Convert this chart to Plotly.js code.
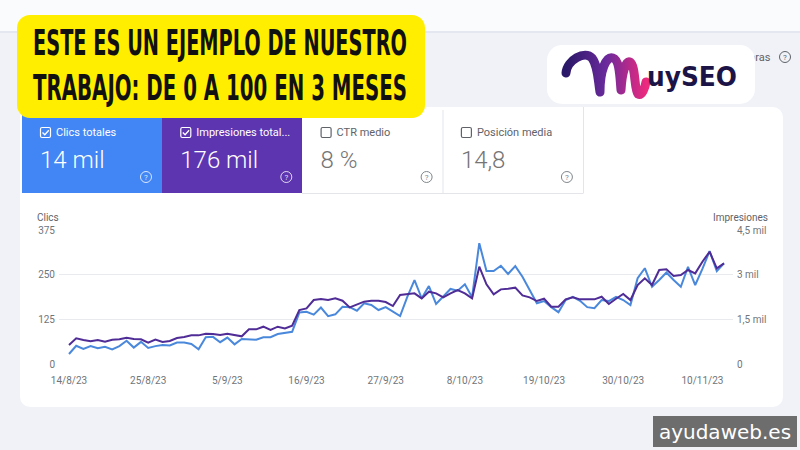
<!DOCTYPE html>
<html><head><meta charset="utf-8">
<script src="https://cdn.plot.ly/plotly-3.0.1.min.js"></script>
<style>
html,body{margin:0;padding:0;width:800px;height:450px;overflow:hidden;background:#f0f2f8;font-family:Roboto,sans-serif}
#bg,#chart,#ov{position:absolute;left:0;top:0;width:800px;height:450px}
#ov{pointer-events:none}
</style></head><body>
<svg id="bg" width="800" height="450" xmlns="http://www.w3.org/2000/svg" font-family="Roboto, sans-serif">
  <rect x="0" y="0" width="800" height="31" fill="#fafbfd"/>
  <rect x="0" y="31" width="800" height="2" fill="#e4e7ef"/>
  <text x="743" y="61" font-size="11" fill="#5f6368">horas</text>
  <circle cx="785" cy="57" r="5.5" fill="none" stroke="#5f6368" stroke-width="1"/>
  <text x="785" y="60" font-size="8" fill="#5f6368" text-anchor="middle">?</text>
  <rect x="20" y="107" width="763" height="300" rx="10" fill="#ffffff"/>
  <!-- tiles -->
  <rect x="22" y="110" width="140" height="83" fill="#4285f4"/>
  <rect x="162" y="110" width="140" height="83" fill="#5e35b1"/>
  <rect x="302" y="110" width="141" height="83" fill="#ffffff"/>
  <rect x="443" y="110" width="140" height="83" fill="#ffffff"/>
  <line x1="443" y1="110" x2="443" y2="193" stroke="#e3e5e8" stroke-width="1"/>
  <line x1="583.5" y1="107" x2="583.5" y2="193" stroke="#e3e5e8" stroke-width="1"/>
  <line x1="302" y1="193.5" x2="583.5" y2="193.5" stroke="#e3e5e8" stroke-width="1"/>
  <g id="tiles"></g>
</svg>
<div id="chart"></div>
<svg id="ov" width="800" height="450" xmlns="http://www.w3.org/2000/svg">
  <defs>
    <linearGradient id="mg" x1="0" y1="0" x2="1" y2="0">
      <stop offset="0" stop-color="#2a1868"/>
      <stop offset="0.5" stop-color="#6a2a9c"/>
      <stop offset="1" stop-color="#ec2a7e"/>
    </linearGradient>
  </defs>
  <rect x="17" y="15" width="408" height="103" rx="13" fill="#ffee00"/>
  <text x="33" y="55" font-family="'Liberation Sans Narrow','DejaVu Sans Condensed',sans-serif" font-weight="bold" font-size="36" fill="#111" textLength="374" lengthAdjust="spacingAndGlyphs">ESTE ES UN EJEMPLO DE NUESTRO</text>
  <text x="33" y="100" font-family="'Liberation Sans Narrow','DejaVu Sans Condensed',sans-serif" font-weight="bold" font-size="36" fill="#111" textLength="374" lengthAdjust="spacingAndGlyphs">TRABAJO: DE 0 A 100 EN 3 MESES</text>
  <rect x="547" y="45" width="208" height="59" rx="15" fill="#ffffff"/>
  <path d="M 566 73 C 567 60 585 50 592 58 C 598 66 598 80 600 92 C 600 70 606 56 613 58 C 620 60 620 80 621 90 C 622 72 626 60 630 62 C 636 66 634 90 638 94 C 642 96 645 88 646 82" fill="none" stroke="url(#mg)" stroke-width="9" stroke-linecap="round" stroke-linejoin="round"/>
  <text x="647" y="86" font-family="'DejaVu Sans',sans-serif" font-weight="bold" font-size="27" fill="#1c1446" textLength="90" lengthAdjust="spacingAndGlyphs">uySEO</text>
  <rect x="653" y="416" width="144" height="31" fill="#6d6d6d"/>
  <text x="725" y="439" font-family="'DejaVu Sans',sans-serif" font-size="20" fill="#ffffff" text-anchor="middle">ayudaweb.es</text>
</svg>
<script>
// ----- data -----
const startDate = '2023-08-14';
const clicks = [28,51,42,50,44,48,41,50,65,46,62,45,50,53,52,60,60,56,41,75,76,61,74,55,70,69,68,75,75,84,86,90,144,146,138,158,134,139,160,159,149,170,165,151,159,146,134,188,235,184,218,168,188,210,205,223,187,338,260,260,275,252,274,244,207,170,176,159,145,179,188,177,159,156,179,176,188,179,165,240,268,216,235,256,235,216,272,221,266,316,260,282];
const impressions = [638,862,806,761,806,750,817,828,884,839,828,716,817,739,772,873,906,962,962,1018,1007,974,1018,962,929,1164,1164,1253,1141,1253,1197,1287,1813,1869,2148,2182,2148,2204,2126,1902,2003,2093,2126,2126,2081,1947,2316,2339,2372,2204,2428,2372,2238,2372,2484,2372,2204,3267,2674,2339,2507,2529,2563,2305,2238,2115,2193,1925,1925,2171,2238,2171,2171,2171,2260,2014,2193,2350,2148,2652,2876,2652,3156,3178,2954,2988,3156,3044,3435,3771,3212,3379];
const tickDates = ['2023-08-14','2023-08-25','2023-09-05','2023-09-16','2023-09-27','2023-10-08','2023-10-19','2023-10-30','2023-11-10'];
const tickLabels = ['14/8/23','25/8/23','5/9/23','16/9/23','27/9/23','8/10/23','19/10/23','30/10/23','10/11/23'];
const leftTicks = [0,125,250,375];
const rightTicks = [0,1500,3000,4500];
const rightLabels = ['0','1,5 mil','3 mil','4,5 mil'];
const tiles = [
  {label:'Clics totales', value:'14 mil', on:true},
  {label:'Impresiones total...', value:'176 mil', on:true},
  {label:'CTR medio', value:'8 %', on:false},
  {label:'Posición media', value:'14,8', on:false}
];

// ----- tiles -----
const NS='http://www.w3.org/2000/svg';
const g=document.getElementById('tiles');
function el(tag,attrs,txt){const e=document.createElementNS(NS,tag);for(const k in attrs)e.setAttribute(k,attrs[k]);if(txt)e.textContent=txt;g.appendChild(e);return e;}
tiles.forEach((t,i)=>{
  const x0=22+i*140.3;
  const fg=t.on?'#ffffff':'#5f6368';
  const vc=t.on?'#ffffff':'#757575';
  el('rect',{x:x0+18.5,y:127.5,width:10,height:10,rx:1.5,fill:'none',stroke:fg,'stroke-width':1.2});
  if(t.on) el('path',{d:`M ${x0+20.5} 132.5 L ${x0+22.8} 134.8 L ${x0+26.8} 130.2`,fill:'none',stroke:fg,'stroke-width':1.3});
  el('text',{x:x0+34,y:136,'font-size':11,fill:fg,'font-family':'Roboto, sans-serif'},t.label);
  el('text',{x:x0+18,y:168,'font-size':24,'font-weight':300,fill:vc,'font-family':'Roboto, sans-serif'},t.value);
  const hx=x0+124;
  el('circle',{cx:hx,cy:177,r:5.5,fill:'none',stroke:t.on?'rgba(255,255,255,0.8)':'#80868b','stroke-width':1});
  el('text',{x:hx,y:180,'font-size':8,fill:t.on?'rgba(255,255,255,0.85)':'#80868b','text-anchor':'middle','font-family':'Roboto, sans-serif'},'?');
});

// ----- chart -----
const DAY=86400000;
const t0=new Date(startDate+'T00:00:00Z').getTime();
const dates=clicks.map((_,i)=>new Date(t0+i*DAY).toISOString().slice(0,10));
const fmt=ms=>new Date(ms).toISOString().replace('T',' ').slice(0,19);
const xr=[fmt(t0-1.39*DAY),fmt(t0+92.25*DAY)];

const traces=[
  {x:dates,y:impressions,yaxis:'y2',type:'scatter',mode:'lines',line:{color:'#4f2c96',width:2},hoverinfo:'skip'},
  {x:dates,y:clicks,yaxis:'y',type:'scatter',mode:'lines',line:{color:'#4a88dc',width:2},hoverinfo:'skip'}
];
const layout={
  width:800,height:450,
  margin:{l:59,r:67,t:230,b:86,pad:0},
  paper_bgcolor:'rgba(0,0,0,0)',plot_bgcolor:'rgba(0,0,0,0)',
  showlegend:false,
  font:{family:'Roboto, sans-serif',size:10,color:'#70757a'},
  xaxis:{type:'date',range:xr,tickmode:'array',tickvals:tickDates,ticktext:tickLabels,showgrid:false,zeroline:false,showline:false,ticks:'',ticklabelstandoff:9,tickfont:{size:10,color:'#70757a'}},
  yaxis:{range:[0,375],tickmode:'array',tickvals:leftTicks,ticktext:leftTicks.map(String),showgrid:true,gridcolor:'#e8eaed',gridwidth:1,zeroline:false,showline:false,ticks:'',ticklabelstandoff:3,tickfont:{size:10,color:'#70757a'}},
  yaxis2:{overlaying:'y',side:'right',range:[0,4500],tickmode:'array',tickvals:rightTicks,ticktext:rightLabels,showgrid:false,zeroline:false,showline:false,ticks:'',ticklabelstandoff:3,tickfont:{size:10,color:'#70757a'}},
  annotations:[
    {xref:'paper',yref:'paper',x:-24/674,y:(364-217)/134,xanchor:'left',yanchor:'middle',text:'Clics',showarrow:false,font:{size:10,color:'#5f6368'}},
    {xref:'paper',yref:'paper',x:(770-59)/674,y:(364-217)/134,xanchor:'right',yanchor:'middle',text:'Impresiones',showarrow:false,font:{size:10,color:'#5f6368'}}
  ]
};
Plotly.newPlot('chart',traces,layout,{staticPlot:true,displayModeBar:false});
</script>
</body></html>
